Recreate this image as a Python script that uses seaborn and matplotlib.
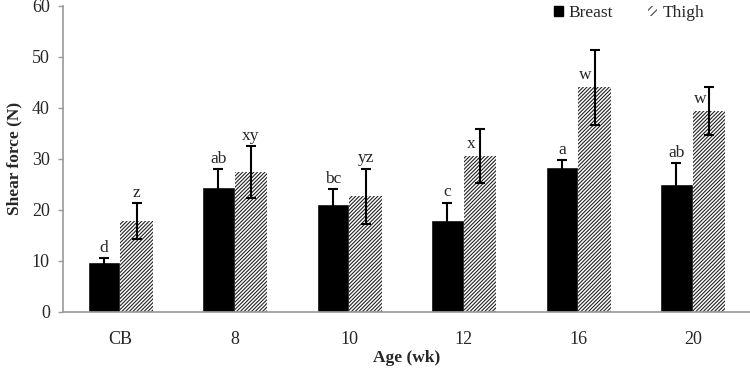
import numpy as np
import pandas as pd
import seaborn as sns
import matplotlib.pyplot as plt
from matplotlib.patches import Patch

ages = ["CB", "8", "10", "12", "16", "20"]
breast = [9.8, 24.5, 21.2, 18.1, 28.4, 25.0]
breast_err = [0.7, 3.5, 2.8, 3.3, 1.3, 4.1]
thigh = [17.8, 27.4, 22.7, 30.5, 44.0, 39.3]
thigh_err = [3.5, 5.1, 5.4, 5.3, 7.3, 4.7]
breast_letters = ["d", "ab", "bc", "c", "a", "ab"]
thigh_letters = ["z", "xy", "yz", "x", "w", "w"]

sns.set_style("white")
plt.rcParams["font.family"] = ["Liberation Serif", "DejaVu Serif"]
plt.rcParams["hatch.linewidth"] = 0.8

df = pd.DataFrame({
    "age": ages * 2,
    "force": breast + thigh,
    "part": ["Breast"] * len(ages) + ["Thigh"] * len(ages),
})

fig = plt.figure(figsize=(7.5, 3.69), dpi=100)
ax = fig.add_axes([0.084, 0.155, 0.916, 0.829])
sns.barplot(data=df, x="age", y="force", hue="part", order=ages,
            palette={"Breast": "black", "Thigh": "white"},
            width=0.57, gap=0, errorbar=None, legend=False, ax=ax)

n = len(ages)
patches = ax.patches[:2 * n]
for p in patches[n:]:
    p.set_hatch("/////////")
    p.set_edgecolor("#222222")
    p.set_linewidth(0)

# error bars and significance letters
for i in range(n):
    pb, pt = patches[i], patches[n + i]
    xb = pb.get_x() + pb.get_width() / 2
    xt = pt.get_x() + pt.get_width() / 2
    ax.errorbar(xb, breast[i], yerr=breast_err[i], fmt="none", ecolor="black",
                elinewidth=1.5, capsize=3.5, capthick=1.5)
    ax.errorbar(xt, thigh[i], yerr=thigh_err[i], fmt="none", ecolor="black",
                elinewidth=1.5, capsize=3.5, capthick=1.5)
    ax.text(xb, breast[i] + breast_err[i] + 0.5, breast_letters[i],
            ha="center", va="bottom", fontsize=12.5)
    if thigh_letters[i] in ("x", "w"):
        ax.text(xt - 0.08, thigh[i] + 0.8, thigh_letters[i],
                ha="center", va="bottom", fontsize=12.5)
    else:
        ax.text(xt, thigh[i] + thigh_err[i] + 0.5, thigh_letters[i],
                ha="center", va="bottom", fontsize=12.5)

ax.set_ylim(0, 60)
ax.set_xlim(-0.5, n - 0.5)
ax.set_yticks(range(0, 61, 10))
ax.set_xlabel("Age (wk)", fontsize=12.5, fontweight="bold", labelpad=1)
ax.set_ylabel("Shear force (N)", fontsize=12.5, fontweight="bold", labelpad=7)
ax.tick_params(axis="x", length=0, pad=14, labelsize=13)
ax.tick_params(axis="y", length=3.5, width=1, color="#999999", pad=6,
               labelsize=13, left=True)
for s in ["top", "right"]:
    ax.spines[s].set_visible(False)
for s in ["left", "bottom"]:
    ax.spines[s].set_color("#999999")
    ax.spines[s].set_linewidth(1.2)

handles = [Patch(facecolor="black", edgecolor="black", label="Breast"),
           Patch(facecolor="white", edgecolor="#444444", hatch="////",
                 linewidth=0, label="Thigh")]
ax.legend(handles=handles, loc="center right", bbox_to_anchor=(0.96, 0.964),
          bbox_transform=fig.transFigure, ncol=2, frameon=False,
          handlelength=0.55, handleheight=0.55, handletextpad=0.3,
          columnspacing=2.0, prop={"family": "Liberation Serif", "size": 12.5})

fig.savefig("out.png", dpi=100)
